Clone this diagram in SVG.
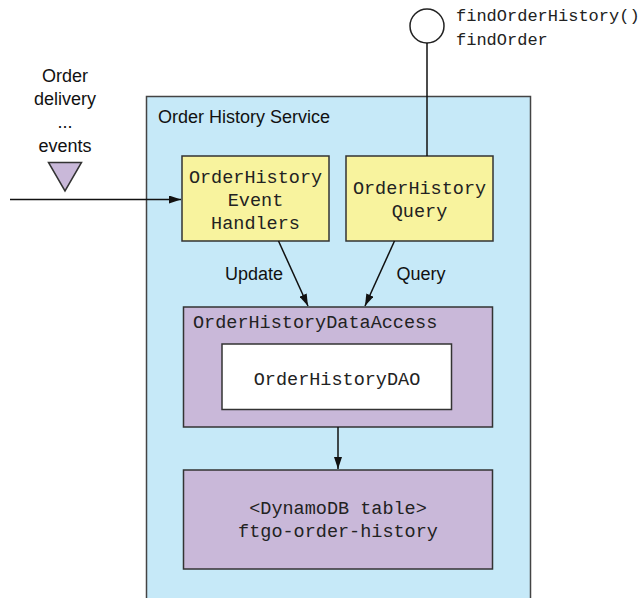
<svg xmlns="http://www.w3.org/2000/svg" width="642" height="598" viewBox="0 0 642 598">
<style>
.sans{font-family:"Liberation Sans",Arial,sans-serif;font-size:18px;fill:#111}
.mono{font-family:"Liberation Mono","Courier New",monospace;font-size:18.5px;fill:#222}
.iface{font-family:"Liberation Mono","Courier New",monospace;font-size:17px;fill:#222}
.box{stroke:#333;stroke-width:1.5}
.conn{stroke:#111;stroke-width:1.5;fill:none}
</style>
<defs>
<marker id="arr" viewBox="0 0 12 8" refX="12" refY="4" markerWidth="12" markerHeight="8" markerUnits="userSpaceOnUse" orient="auto">
<path d="M0,0 L12,4 L0,8 z" fill="#111"/>
</marker>
</defs>
<rect width="642" height="598" fill="#fff"/>
<g id="service">
<rect x="146.5" y="96.5" width="384" height="510" fill="#c6e9f8" stroke="#444" stroke-width="1.5"/>
<text class="sans" x="158" y="123">Order History Service</text>
</g>
<g id="interface">
<circle cx="427" cy="26" r="17" fill="#fff" stroke="#222" stroke-width="1.5"/>
<text class="iface" x="456" y="21">findOrderHistory()</text>
<text class="iface" x="456" y="45">findOrder</text>
</g>
<g id="events">
<text class="sans" text-anchor="middle" x="65" y="82">Order</text>
<text class="sans" text-anchor="middle" x="65" y="105">delivery</text>
<text class="sans" text-anchor="middle" x="65" y="128">...</text>
<text class="sans" text-anchor="middle" x="65" y="152">events</text>
<polygon points="48.5,162.5 81.5,162.5 65,191" fill="#c9b8d9" stroke="#333" stroke-width="1.5"/>
</g>
<g id="eventHandlers">
<rect class="box" x="182" y="156" width="147" height="85" fill="#f8f39e"/>
<text class="mono" text-anchor="middle" x="255.5" y="182.5">OrderHistory</text>
<text class="mono" text-anchor="middle" x="255.5" y="205.5">Event</text>
<text class="mono" text-anchor="middle" x="255.5" y="229">Handlers</text>
</g>
<g id="query">
<rect class="box" x="346" y="156" width="147" height="85" fill="#f8f39e"/>
<text class="mono" text-anchor="middle" x="419.5" y="193.5">OrderHistory</text>
<text class="mono" text-anchor="middle" x="419.5" y="216.5">Query</text>
</g>
<g id="dataAccess">
<rect class="box" x="183.5" y="307" width="309" height="120" fill="#c9b8d9"/>
<text class="mono" x="193" y="328">OrderHistoryDataAccess</text>
</g>
<g id="dao">
<rect class="box" x="222" y="344" width="229.5" height="65.5" fill="#fff"/>
<text class="mono" text-anchor="middle" x="337" y="385">OrderHistoryDAO</text>
</g>
<g id="table">
<rect class="box" x="183.5" y="470" width="309" height="99" fill="#c9b8d9"/>
<text class="mono" text-anchor="middle" x="338" y="513.5">&lt;DynamoDB table&gt;</text>
<text class="mono" text-anchor="middle" x="338" y="537">ftgo-order-history</text>
</g>
<g id="connectors">
<line class="conn" x1="427" y1="43" x2="427" y2="156"/>
<line class="conn" x1="10" y1="199.5" x2="181" y2="199.5" marker-end="url(#arr)"/>
<line class="conn" x1="278.5" y1="241" x2="308" y2="306" marker-end="url(#arr)"/>
<line class="conn" x1="394.5" y1="241" x2="365" y2="306" marker-end="url(#arr)"/>
<line class="conn" x1="338" y1="427" x2="338" y2="469" marker-end="url(#arr)"/>
<text class="sans" text-anchor="middle" x="254" y="280">Update</text>
<text class="sans" text-anchor="middle" x="421" y="280">Query</text>
</g>
</svg>
